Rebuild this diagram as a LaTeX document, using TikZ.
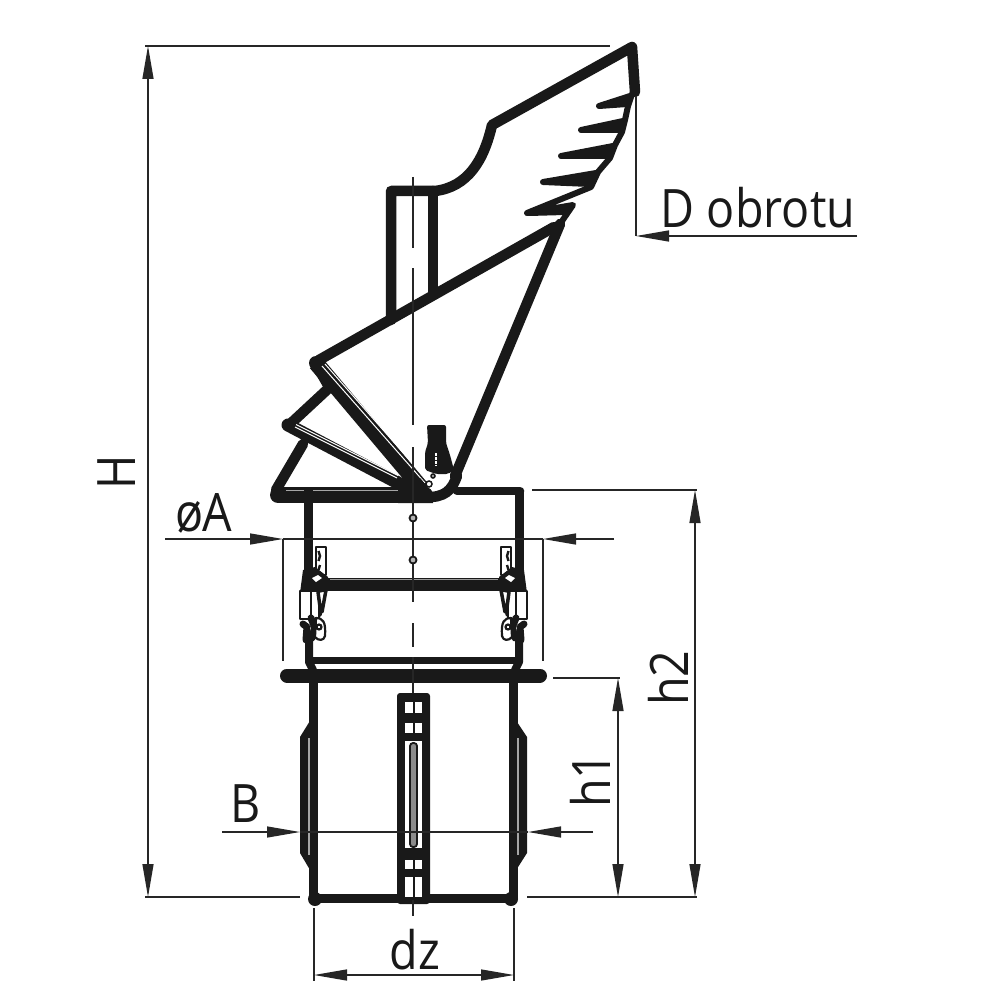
\documentclass[tikz,border=0pt]{standalone}
\usepackage{fontspec}
\setmainfont[FakeStretch=0.88]{Open Sans}
\usetikzlibrary{arrows.meta}
\tikzstyle{thickline}=[line width=10.5pt,line join=round,line cap=round,black!90]
\tikzstyle{midline}=[line width=6pt,line join=round,line cap=round,black!90]
\tikzstyle{feather}=[line width=6pt,line join=round,fill=black!90,draw=black!90]
\tikzstyle{thinline}=[line width=1.4pt,black!85]
\tikzstyle{dimline}=[line width=1.3pt,black!85]
\tikzstyle{dimtip}=[-{Stealth[length=33pt,width=11pt,inset=0pt]}]
\tikzstyle{dimboth}=[{Stealth[length=33pt,width=11pt,inset=0pt]}-{Stealth[length=33pt,width=11pt,inset=0pt]}]
\tikzstyle{lab}=[font=\fontsize{53}{53}\selectfont,inner sep=0,black!90]
\tikzstyle{latchpart}=[line width=1.8pt,black!90,line join=round]
\newcommand{\latchside}{%
    \draw[latchpart,fill=white] (316,547) rectangle (326,575);
    \draw[line width=2.4pt,black!90] (318.5,551) -- (320,556) -- (318.5,561) (320,565) -- (318.5,570);
    \fill[black!90] (303,570) -- (315,567) -- (328,577) -- (328,591) -- (318,593) -- (310,595) -- (300,593) -- cycle;
    \fill[white] (312,578) -- (318,575) -- (322,578) -- (316,582) -- cycle;
    \draw[latchpart,fill=white] (300,591) rectangle (311,619);
    \draw[latchpart,fill=white] (311,591) rectangle (319,619);
    \draw[midline,line width=3.5pt] (318,592) -- (320,607) -- (320,615) (326,590) -- (322,612);
    \draw[midline,line width=7pt] (306,640) -- (307,627) -- (303,624) (311,618) -- (315,628) -- (312,638);
    \draw[latchpart,line width=2.2pt,fill=white] (316,618) .. controls (323,618) and (326,622) .. (325,636) .. controls (324,641) and (318,641) .. (315,637) -- cycle;
    \draw[line width=2.2pt,black!90] (319,627) circle (2.5);
}

\begin{document}
\begin{tikzpicture}[x=1pt,y=-1pt]
    \useasboundingbox (0,0) rectangle (1000,1000);
    \fill[white] (0,0) rectangle (1000,1000);

    % wing
    \draw[thickline] (391,320) -- (391,191) -- (435,191) .. controls (468,187) and (484,160) .. (492,125) -- (632,47) -- (635,92);
    \draw[thickline] (433,191) -- (433,292);

    % feathers
    \draw[midline] (632,94) -- (628,106) -- (625,120) -- (622,132) -- (615,145) -- (610,158) -- (598,172) -- (591,187) -- (527,213) -- (573,205) -- (560,224);
    \draw[feather] (599,106) -- (630,96) -- (627,104) -- cycle;
    \draw[feather] (581,130) -- (623,121) -- (620,130) -- cycle;
    \draw[feather] (561,156) -- (613,146) -- (607,156) -- cycle;
    \draw[feather] (543,182) -- (596,173) -- (590,184) -- cycle;
    \draw[feather] (529,213) -- (570,206) -- (565,212) -- cycle;

    % cone
    \draw[thickline] (319,360) -- (554,227);
    \draw[thickline] (560,224) -- (455,476);
    \draw[thickline] (316,364) -- (328,385);
    \draw[thickline,line width=16pt] (278,495) -- (425,495);
    \draw[thickline] (425,497) .. controls (445,498) and (452,490) .. (457,476);
    \draw[thickline,line width=8.5pt] (457,491) -- (520,491);
    \draw[thickline] (276,490) -- (303,444);
    \draw[thickline] (288,426) -- (330,387);
    \draw[thickline,line width=13pt] (288,425) -- (402,485);
    \draw[thickline,line width=16pt,line cap=butt] (316,363) -- (423,490);
    \fill[black!90] (316,363) circle (7);
    \draw[line width=1pt,white] (322,366) -- (425,483) (325,364) -- (428,481);
    \draw[line width=1pt,white] (296,424.5) -- (398,475.5) (295,427) -- (397,478);
    \draw[line width=1pt,black!35] (286,490) -- (403,490);
    \fill[black!90] (398,482) -- (420,478) -- (430,490) -- (433,503) -- (398,503) -- cycle;
    \draw[line width=1.5pt,black!90,fill=white] (429,484) circle (3);
    \draw[line width=1.5pt,black!90,fill=black!30] (433,476) circle (2);

    % handle on the cone
    \fill[black!90,rounded corners=2pt] (427,425) -- (446,425) -- (446,443) -- (450,455) -- (454,470) -- (448,474) -- (436,474) -- (425,470) -- (425,452) -- (428,443) -- cycle;
    \draw[line width=1.5pt,white,dash pattern=on 2.5pt off 1.5pt] (436,453) -- (436,466);

    % upper body
    \draw[thickline,line width=9pt,line cap=butt] (308,490) -- (308,575);
    \draw[thickline,line width=9pt,line cap=butt] (519,490) -- (519,575);
    \draw[thickline,line width=13pt,line cap=butt] (325,584) -- (502,584);
    \draw[thickline,line width=7.5pt,line cap=butt] (309,660.5) -- (518,660.5);
    \draw[thickline,line width=8pt] (309,640) -- (309,662) -- (313,670);
    \draw[thickline,line width=8pt] (519,640) -- (519,662) -- (515,670);
    \draw[line width=.8pt,black!40] (330,579) -- (498,579);

    % latches, right one mirrored
    \latchside
    \begin{scope}[xshift=827pt,x=-1pt]
        \latchside
    \end{scope}

    % flange
    \draw[thickline,line width=14pt] (287,675.5) -- (540,675.5);

    % lower body
    \draw[thickline,line width=9pt] (313,680) -- (313,898) -- (513,898) -- (513,680);
    \fill[black!90] (313,716) -- (300,737) -- (300,853) -- (313,875) -- (317,875) -- (317,716) -- cycle;
    \fill[black!90] (513,716) -- (527,737) -- (527,853) -- (513,875) -- (509,875) -- (509,716) -- cycle;
    \draw[line width=1.2pt,black!35] (309,738) -- (309,855);
    \draw[line width=1.2pt,black!35] (518,738) -- (518,855);
    \fill[black!90] (315,899) circle (7);
    \fill[black!90] (511,899) circle (7);

    % strap in the middle
    \fill[black!90,rounded corners=3pt] (397,693) rectangle (430,904);
    \fill[white] (405,702) rectangle (422,713);
    \fill[white] (405,723) rectangle (422,733);
    \fill[white] (405,741) rectangle (422,848);
    \fill[white] (405,860) rectangle (422,869);
    \fill[white] (405,877) rectangle (422,897);
    \draw[line width=2pt,black!90] (413.5,702) -- (413.5,733) (413.5,860) -- (413.5,897);
    \draw[line width=1.8pt,black!90,fill=black!45,rounded corners=3pt] (410,743) rectangle (417,847);

    % centre line
    \draw[thinline] (413,177) -- (413,248);
    \draw[thinline] (413,268) -- (413,425);
    \draw[thinline] (413,447) -- (413,602);
    \draw[thinline] (413,623) -- (413,647);
    \draw[thinline] (413,657) -- (413,693);
    \draw[thinline] (413,900) -- (413,916);
    \draw[line width=1.8pt,black!90,fill=black!30] (413,518) circle (3.5);
    \draw[line width=1.8pt,black!90,fill=black!30] (413,560) circle (3.5);

    % dimensions
    \coordinate (H_top) at (148,46);
    \coordinate (H_bot) at (148,897);
    \draw[dimline] (145,46) -- (610,46);
    \draw[dimline] (145,897) -- (300,897);
    \draw[dimline,dimboth] (H_top) -- (H_bot);
    \node[lab,rotate=90] (H) at (117,472) {H};

    \coordinate (D_end) at (857,236);
    \coordinate (D_tip) at (636,236);
    \draw[dimline] (636,96) -- (D_tip);
    \draw[dimline,dimtip] (D_end) -- (D_tip);
    \node[lab] (D) at (758,208) {D obrotu};

    \coordinate (A_left) at (165,539);
    \coordinate (A_lefttip) at (283,539);
    \coordinate (A_right) at (614,539);
    \coordinate (A_righttip) at (543,539);
    \draw[dimline,dimtip] (A_left) -- (A_lefttip);
    \draw[dimline,dimtip] (A_right) -- (A_righttip);
    \draw[dimline] (A_lefttip) -- (A_righttip);
    \draw[dimline] (A_lefttip) -- (283,661);
    \draw[dimline] (A_righttip) -- (543,661);
    \node[lab] (A) at (204,513) {ø\kern-1pt A};

    \draw[dimline] (532,490) -- (697,490);
    \draw[dimline] (527,897) -- (697,897);
    \coordinate (h2_top) at (695,490);
    \coordinate (h2_bot) at (695,897);
    \draw[dimline,dimboth] (h2_top) -- (h2_bot);
    \node[lab,rotate=90] (h2) at (668,678) {h2};

    \draw[dimline] (553,678) -- (620,678);
    \coordinate (h1_top) at (618,678);
    \coordinate (h1_bot) at (618,897);
    \draw[dimline,dimboth] (h1_top) -- (h1_bot);
    \node[lab,rotate=90] (h1) at (590,780) {h1};

    \coordinate (B_left) at (222,832);
    \coordinate (B_lefttip) at (300,832);
    \coordinate (B_right) at (593,832);
    \coordinate (B_righttip) at (528,832);
    \draw[dimline,dimtip] (B_left) -- (B_lefttip);
    \draw[dimline,dimtip] (B_right) -- (B_righttip);
    \draw[dimline] (B_lefttip) -- (B_righttip);
    \node[lab] (B) at (246,804) {B};

    \coordinate (dz_left) at (314,975);
    \coordinate (dz_right) at (514,975);
    \draw[dimline] (314,908) -- (314,981);
    \draw[dimline] (514,908) -- (514,981);
    \draw[dimline,dimboth] (dz_left) -- (dz_right);
    \node[lab] (dz) at (415,950) {dz};
\end{tikzpicture}
\end{document}
